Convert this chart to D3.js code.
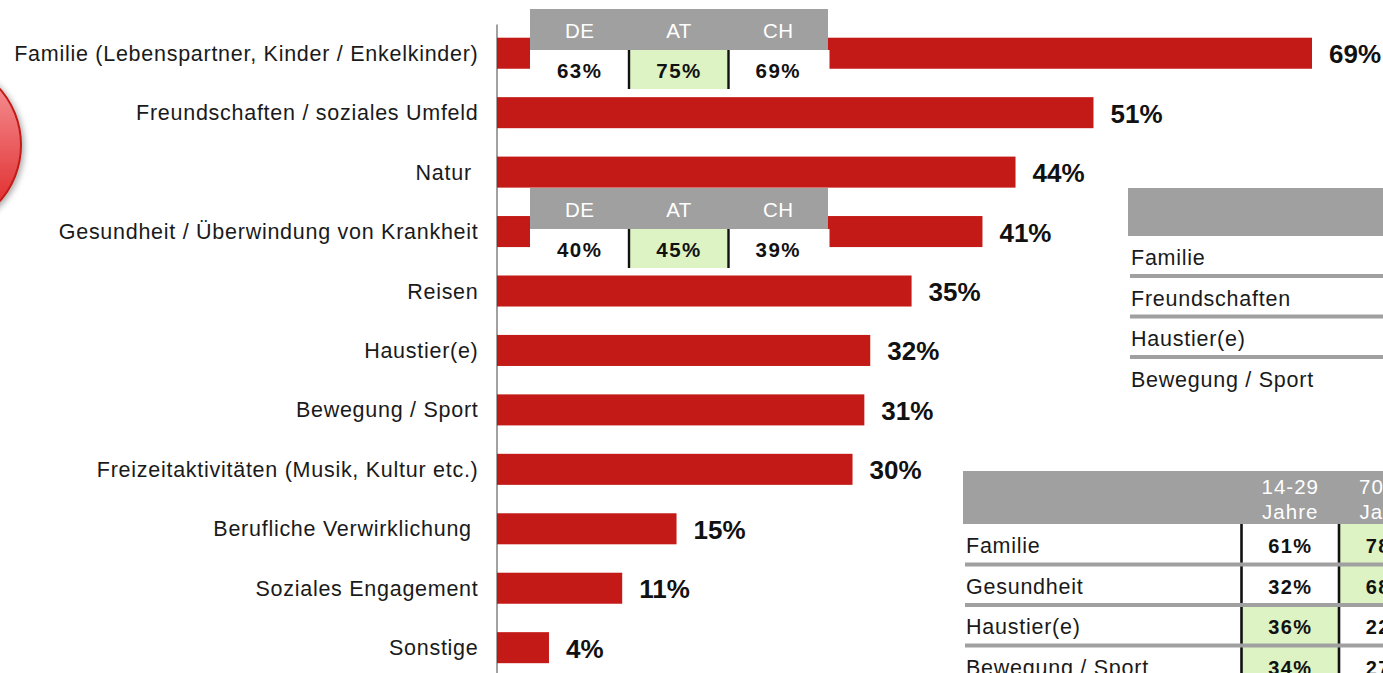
<!DOCTYPE html>
<html><head><meta charset="utf-8">
<script src="https://cdn.jsdelivr.net/npm/d3@7"></script>
<style>
html,body{margin:0;padding:0;background:#fff;overflow:hidden}
svg{display:block}
text{font-family:"Liberation Sans",Arial,sans-serif}
.lab{font-size:21.5px;letter-spacing:.73px;fill:#1a1a1a}
.tlab{font-size:21.5px;letter-spacing:.75px;fill:#1a1a1a}
.val{font-size:26px;font-weight:bold;fill:#111}
.cell{font-size:20px;font-weight:bold;fill:#111;letter-spacing:1.3px}
.cellc{font-size:20.5px;font-weight:bold;fill:#111;letter-spacing:1.5px}
.hd{font-size:20.5px;fill:#fff;letter-spacing:.5px}
.hd2{font-size:20.5px;fill:#fff;letter-spacing:1px}
</style></head><body>
<svg id="c" width="1383" height="673"></svg>
<script>
const categories=["Familie (Lebenspartner, Kinder / Enkelkinder)","Freundschaften / soziales Umfeld","Natur ","Gesundheit / Überwindung von Krankheit","Reisen","Haustier(e)","Bewegung / Sport","Freizeitaktivitäten (Musik, Kultur etc.)","Berufliche Verwirklichung ","Soziales Engagement","Sonstige"];
const barValues=[69,50.5,43.9,41.1,35.1,31.6,31.1,30.1,15.2,10.6,4.4];
const valueLabels=["69%","51%","44%","41%","35%","32%","31%","30%","15%","11%","4%"];
const countries=["DE","AT","CH"];
const familieCountry=["63%","75%","69%"];
const gesundheitCountry=["40%","45%","39%"];
const highlightCountry=[false,true,false];
const table1Rows=["Familie","Freundschaften","Haustier(e)","Bewegung / Sport"];
const table2Rows=["Familie","Gesundheit","Haustier(e)","Bewegung / Sport"];
const table2Heads=[["14-29","Jahre"],["70-79","Jahre"]];
const young=["61%","32%","36%","34%"];
const old=["78%","68%","22%","27%"];
const youngHi=[false,false,true,true];
const oldHi=[true,true,false,false];

const GREY="#a0a0a0",GREEN="#ddf3c3",RED="#c31a17";
const svg=d3.select("#c");
const defs=svg.append("defs");
const g=defs.append("linearGradient").attr("id","rg").attr("x1",0).attr("y1",0).attr("x2",0).attr("y2",1);
g.append("stop").attr("offset",0).attr("stop-color","#f9a0a4");
g.append("stop").attr("offset",1).attr("stop-color","#dc1c1c");
const f=defs.append("filter").attr("id","sh").attr("x","-20%").attr("y","-20%").attr("width","150%").attr("height","150%");
f.append("feDropShadow").attr("dx",2).attr("dy",2).attr("stdDeviation",3).attr("flood-color","#000").attr("flood-opacity",.35);

svg.append("circle").attr("cx",-64).attr("cy",145).attr("r",85).attr("fill","url(#rg)").attr("stroke","#c31a17").attr("stroke-width",2).attr("filter","url(#sh)");

const x=d3.scaleLinear().domain([0,69]).range([497,1312]);
const y=d3.scaleBand().domain(categories).range([23.5,677.4]).paddingInner(.478).paddingOuter(.239);

svg.selectAll(".bar").data(categories).join("rect").attr("class","bar")
 .attr("x",x(0)).attr("y",d=>y(d)).attr("width",(d,i)=>x(barValues[i])-x(0)).attr("height",y.bandwidth()).attr("fill",RED);
svg.append("g").attr("transform","translate(496.5,0)")
 .call(d3.axisLeft(d3.scaleLinear().domain([0,1]).range([673,24])).tickValues([]).tickSize(0))
 .select(".domain").attr("stroke","#444").attr("stroke-width",1);
svg.selectAll(".lab").data(categories).join("text").attr("class","lab")
 .attr("x",478.5).attr("y",d=>y(d)+y.bandwidth()/2+7.5).attr("text-anchor","end")
 .style("white-space","pre").text(d=>d);
svg.selectAll(".val").data(valueLabels).join("text").attr("class","val")
 .attr("x",(d,i)=>x(barValues[i])+17).attr("y",(d,i)=>y(categories[i])+y.bandwidth()/2+10).text(d=>d);

function countryBox(top,vals){
  const cx=d3.scaleBand().domain(countries).range([530,828]);
  const r=svg.append("g");
  r.append("rect").attr("x",530).attr("y",top).attr("width",298).attr("height",41).attr("fill",GREY);
  r.append("rect").attr("x",530).attr("y",top+41).attr("width",299.5).attr("height",39).attr("fill","#fff");
  countries.forEach((c,i)=>{
    if(highlightCountry[i]) r.append("rect").attr("x",cx(c)).attr("y",top+41).attr("width",cx.bandwidth()).attr("height",39).attr("fill",GREEN);
    r.append("text").attr("class","hd").attr("x",cx(c)+cx.bandwidth()/2).attr("y",top+29).attr("text-anchor","middle").text(c);
    r.append("text").attr("class","cellc").attr("x",cx(c)+cx.bandwidth()/2).attr("y",top+69).attr("text-anchor","middle").text(vals[i]);
  });
  [629,728.5].forEach(px=>r.append("line").attr("x1",px).attr("x2",px).attr("y1",top+41).attr("y2",top+80).attr("stroke","#111").attr("stroke-width",2.4));
}
countryBox(9,familieCountry);
countryBox(188,gesundheitCountry);

function rowsBlock(left,top,rows,step,textDy,lineDy){
  const t=svg.append("g");
  rows.forEach((d,i)=>{
    t.append("text").attr("class","tlab").attr("x",left).attr("y",top+i*step+textDy).text(d);
    if(i<rows.length-1) t.append("rect").attr("x",left-1).attr("y",top+i*step+step+lineDy).attr("width",1383-left+1).attr("height",4).attr("fill",GREY);
  });
}
svg.append("rect").attr("x",1128).attr("y",188).attr("width",255).attr("height",48).attr("fill",GREY);
rowsBlock(1131,236,table1Rows,40.5,29,-2.5);

svg.append("rect").attr("x",963).attr("y",471).attr("width",420).attr("height",53).attr("fill",GREY);
const colX=[1241.5,1339],colW=97.5;
[0,1].forEach(k=>{
  table2Heads[k].forEach((s,j)=>svg.append("text").attr("class","hd2").attr("x",colX[k]+colW/2).attr("y",494+j*25).attr("text-anchor","middle").text(s));
});
const rowY=d3.scaleBand().domain(table2Rows).range([524,686]);
const hi=[youngHi,oldHi],vals=[young,old];
table2Rows.forEach((d,i)=>{
  [0,1].forEach(k=>{
    if(hi[k][i]) svg.append("rect").attr("x",colX[k]).attr("y",rowY(d)).attr("width",colW).attr("height",40.5).attr("fill",GREEN);
    svg.append("text").attr("class","cell").attr("x",colX[k]+colW/2).attr("y",rowY(d)+29).attr("text-anchor","middle").text(vals[k][i]);
  });
});
colX.forEach(px=>svg.append("line").attr("x1",px).attr("x2",px).attr("y1",524).attr("y2",673).attr("stroke","#111").attr("stroke-width",2.6));
rowsBlock(966,524,table2Rows,40.5,29,-2);
</script>
</body></html>
